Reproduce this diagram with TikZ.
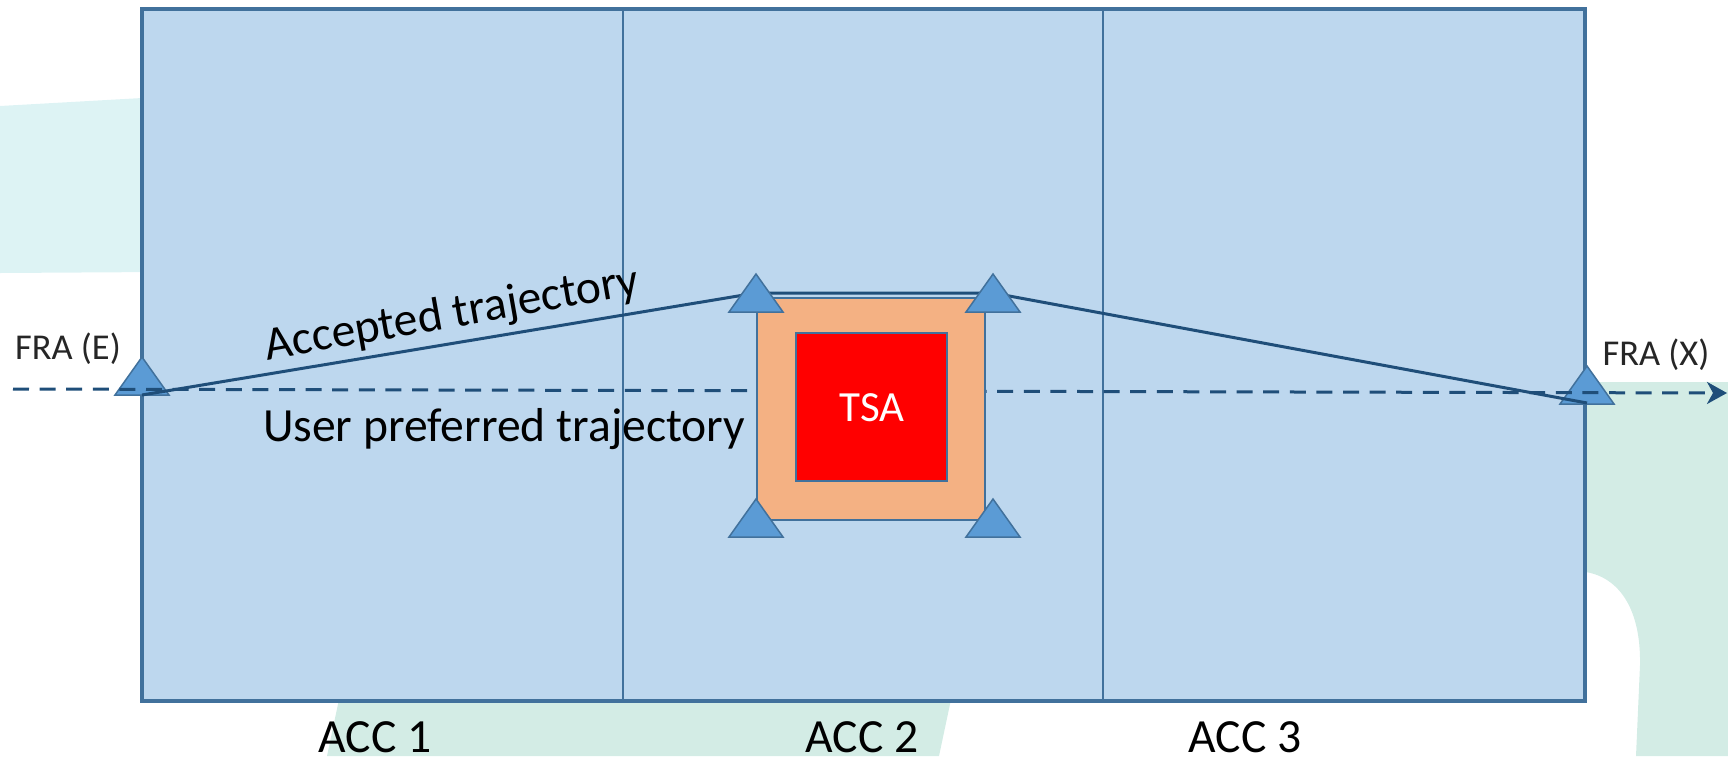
\documentclass[tikz,border=0pt]{standalone}
\usepackage{fontspec}
\setmainfont{Carlito}
\usetikzlibrary{arrows.meta}
\definecolor{airspace}{HTML}{BDD7EE}
\definecolor{edgeblue}{HTML}{41719C}
\definecolor{routeblue}{HTML}{1F4E79}
\definecolor{wpfill}{HTML}{5B9BD5}
\definecolor{bufferorange}{HTML}{F4B183}
\definecolor{tsared}{HTML}{FF0000}
\definecolor{tintcyan}{HTML}{DDF3F4}
\definecolor{tintgreen}{HTML}{D3ECE5}
\tikzset{
  sectorfill/.style={fill=airspace},
  sectoredge/.style={draw=edgeblue, line width=2pt},
  divider/.style={draw=edgeblue, line width=1pt},
  preferred/.style={draw=routeblue, line width=1.5pt, dash pattern=on 8pt off 5.3pt,
    -{Stealth[length=10pt,width=11pt,inset=3pt]}},
  accepted/.style={draw=routeblue, line width=1.5pt, line join=round},
  bufferzone/.style={fill=bufferorange, draw=edgeblue, line width=1pt},
  tsabox/.style={fill=tsared, draw=edgeblue, line width=1pt},
  waypoint/.pic={\filldraw[fill=wpfill, draw=edgeblue, line width=0.75pt]
    (-27,0) -- (27,0) -- (0,-38) -- cycle;},
  biglabel/.style={font=\fontsize{23.8}{28}\selectfont, inner sep=0pt, text=black},
  fralabel/.style={font=\fontsize{18.2}{21}\selectfont, inner sep=0pt, text=black!85},
}
\begin{document}
\begin{tikzpicture}[x=0.5pt,y=-0.5pt]
\useasboundingbox (0,0) rectangle (1728,756);

% faint background tints
\fill[tintcyan] (0,106) -- (160,97) -- (160,272) -- (0,273) -- cycle;
\fill[tintgreen] (1560,382) -- (1728,382) -- (1728,756) -- (1636,756) -- (1640,665)
  .. controls (1641,610) and (1620,578) .. (1586,572) -- (1560,572) -- cycle;
\fill[tintgreen] (341,690) -- (953,690) -- (939,756) -- (327,756) -- cycle;

% the three control sectors
\fill[sectorfill] (142,9) rectangle (1585,701);
\draw[divider] (623,9) -- (623,701);
\draw[divider] (1103,9) -- (1103,701);
\draw[sectoredge] (142,9) rectangle (1585,701);

% named route points
\coordinate (entry) at (142,395);
\coordinate (tl) at (756,293);
\coordinate (tr) at (993,293);
\coordinate (exit) at (1587,403);
\coordinate (dashstart) at (13,389);
\coordinate (dashend) at (1727,393);

% entry and exit points
\pic at (142,395) {waypoint};
\pic at (1587,404) {waypoint};

% trajectories
\draw[preferred] (dashstart) -- (dashend);
\draw[accepted] (entry) -- (tl) -- (tr) -- (exit);

% restricted area with its buffer
\draw[bufferzone] (757,298) rectangle (985,520);
\draw[tsabox] (796,333) rectangle (947,481);

% points around the restricted area
\pic at (756,312) {waypoint};
\pic at (993,312) {waypoint};
\pic at (756,537) {waypoint};
\pic at (993,537) {waypoint};

% labels
\node[font=\fontsize{21.5}{26}\selectfont, inner sep=0pt, text=white, anchor=base] (tsa) at (872,421) {TSA};
\node[biglabel, rotate=10] (acctraj) at (452,315) {Accepted trajectory};
\node[biglabel, anchor=base] (usertraj) at (504,441) {User preferred trajectory};
\node[fralabel, anchor=base] (frae) at (68,359) {FRA (E)};
\node[fralabel, anchor=base] (frax) at (1656,365) {FRA (X)};
\node[biglabel, anchor=base] (acc1) at (375,752) {ACC 1};
\node[biglabel, anchor=base] (acc2) at (862,752) {ACC 2};
\node[biglabel, anchor=base] (acc3) at (1245,752) {ACC 3};
\end{tikzpicture}
\end{document}
